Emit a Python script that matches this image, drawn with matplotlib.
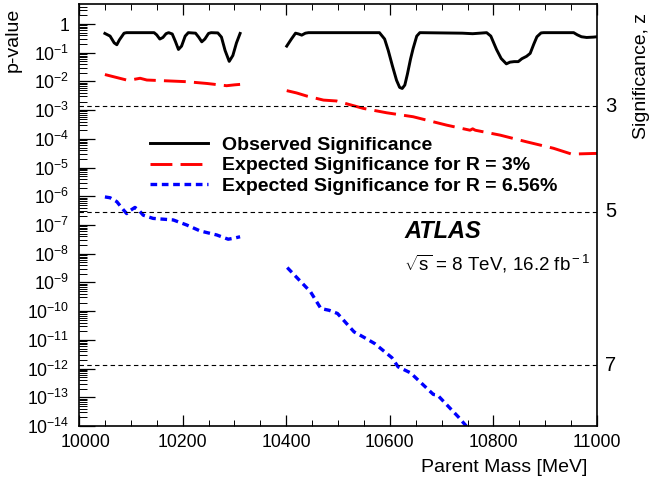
import matplotlib
matplotlib.use("Agg")
import matplotlib.pyplot as plt
from matplotlib.ticker import FixedLocator, NullFormatter, MultipleLocator
import matplotlib.transforms as mtransforms
import numpy as np

plt.rcParams['font.family'] = ['Liberation Sans', 'DejaVu Sans']
plt.rcParams['mathtext.fontset'] = 'custom'
plt.rcParams['mathtext.rm'] = 'Liberation Sans'
plt.rcParams['mathtext.it'] = 'Liberation Sans:italic'
plt.rcParams['mathtext.bf'] = 'Liberation Sans:bold'

# ---------------- data ----------------
obs1_x = [10050, 10060, 10068, 10073, 10078, 10087, 10092, 10145, 10150, 10156, 10162,
          10168, 10173, 10180, 10186, 10192, 10198, 10205, 10211, 10225, 10231, 10237,
          10243, 10250, 10255, 10268, 10275, 10282, 10290, 10297, 10304, 10311]
obs1_p = [0.47, 0.38, 0.22, 0.19, 0.28, 0.48, 0.5, 0.5, 0.42, 0.3, 0.34,
          0.46, 0.5, 0.45, 0.25, 0.13, 0.17, 0.38, 0.5, 0.48, 0.35, 0.24,
          0.3, 0.47, 0.5, 0.49, 0.35, 0.12, 0.05, 0.08, 0.22, 0.47]

obs2_x = [10401, 10410, 10418, 10424, 10430, 10437, 10443, 10580, 10590, 10597, 10605,
          10613, 10619, 10624, 10629, 10634, 10640, 10645, 10652, 10658, 10740, 10760,
          10787, 10795, 10806, 10815, 10825, 10832, 10840, 10848, 10855, 10864, 10871,
          10878, 10884, 10892, 10897, 10955, 10962, 10970, 10980, 10993, 11000]
obs2_p = [0.17, 0.3, 0.48, 0.45, 0.41, 0.48, 0.5, 0.5, 0.3, 0.12, 0.035,
          0.011, 0.0062, 0.0057, 0.0075, 0.018, 0.06, 0.14, 0.38, 0.5, 0.48, 0.46,
          0.5, 0.38, 0.13, 0.063, 0.041, 0.047, 0.049, 0.049, 0.062, 0.075, 0.095,
          0.2, 0.36, 0.49, 0.5, 0.5, 0.42, 0.36, 0.34, 0.35, 0.36]

exp3_1_x = [10050, 10070, 10092, 10105, 10118, 10131, 10169, 10208, 10247, 10285, 10300, 10311]
exp3_1_p = [0.0174, 0.0141, 0.0112, 0.0117, 0.0129, 0.0112, 0.0105, 0.0098, 0.0085,
            0.0071, 0.0076, 0.0079]
exp3_2_x = [10401, 10420, 10440, 10472, 10497, 10549, 10594, 10645, 10710, 10755, 10760,
            10765, 10813, 10864, 10916, 10951, 10993, 11000]
exp3_2_p = [4.79e-3, 3.98e-3, 3.09e-3, 2.24e-3, 2.09e-3, 1.15e-3, 8.1e-4, 5.9e-4, 3.0e-4,
            2.0e-4, 2.24e-4, 2.0e-4, 1.35e-4, 7.9e-5, 4.7e-5, 2.95e-5, 3.1e-5, 3.1e-5]

exp656_1_x = [10050, 10060, 10073, 10085, 10092, 10100, 10108, 10116, 10124, 10143, 10182,
              10208, 10234, 10266, 10288, 10300, 10311]
exp656_1_p = [9.5e-7, 8.9e-7, 6.5e-7, 3.5e-7, 2.5e-7, 3.3e-7, 4.1e-7, 3.2e-7, 2.2e-7,
              1.7e-7, 1.5e-7, 1.0e-7, 6.2e-8, 4.5e-8, 3.2e-8, 3.5e-8, 3.9e-8]
exp656_2_x = [10402, 10447, 10467, 10483, 10499, 10531, 10551, 10571, 10604, 10616, 10640,
              10684, 10692, 10732, 10750]
exp656_2_p = [3.3e-9, 4.7e-10, 1.23e-10, 1.07e-10, 8.3e-11, 1.9e-11, 1.2e-11, 7.4e-12,
              2.4e-12, 1.15e-12, 7.1e-13, 1.26e-13, 1.2e-13, 2.1e-14, 8.9e-15]

sig_levels = [3, 5, 7]
sig_pvalues = [1.35e-3, 2.87e-7, 1.28e-12]

ytick_vals = [1e-14, 1e-13, 1e-12, 1e-11, 1e-10, 1e-9, 1e-8, 1e-7, 1e-6, 1e-5, 1e-4,
              1e-3, 1e-2, 1e-1, 1]
ytick_labels = ['$10^{-14}$', '$10^{-13}$', '$10^{-12}$', '$10^{-11}$', '$10^{-10}$',
                '$10^{-9}$', '$10^{-8}$', '$10^{-7}$', '$10^{-6}$', '$10^{-5}$',
                '$10^{-4}$', '$10^{-3}$', '$10^{-2}$', '$10^{-1}$', '1']
xtick_vals = [10000, 10200, 10400, 10600, 10800, 11000]
xtick_labels = ['10000', '10200', '10400', '10600', '10800', '11000']

# ---------------- figure ----------------
W, H = 653, 486
fig = plt.figure(figsize=(W / 100, H / 100), dpi=100)
L, R, B, T = 79, 597, 426, 4
ax = fig.add_axes([L / W, (H - B) / H, (R - L) / W, (B - T) / H])
ax.set_yscale('log')
ax.set_xlim(10000, 11000)
ax.set_ylim(1e-14, 4.98)

red = '#ff0000'
blue = '#0000ff'
l_obs, = ax.plot(obs1_x, obs1_p, color='black', lw=2.1, solid_joinstyle='round')
ax.plot(obs2_x, obs2_p, color='black', lw=2.1, solid_joinstyle='round')
l_r3, = ax.plot(exp3_1_x, exp3_1_p, color=red, lw=2.1, dashes=(7.5, 2.8))
ax.plot(exp3_2_x, exp3_2_p, color=red, lw=2.1, dashes=(7.5, 2.8))
l_r6, = ax.plot(exp656_1_x, exp656_1_p, color=blue, lw=2.4, dashes=(2.0, 1.4))
ax.plot(exp656_2_x, exp656_2_p, color=blue, lw=2.4, dashes=(2.0, 1.4))

for p in sig_pvalues:
    ax.axhline(p, color='black', lw=0.8, dashes=(4, 3))

# ticks
ax.yaxis.set_major_locator(FixedLocator(ytick_vals))
ax.set_yticklabels(ytick_labels)
ax.yaxis.set_minor_locator(matplotlib.ticker.LogLocator(base=10, subs=np.arange(2, 10), numticks=30))
ax.yaxis.set_minor_formatter(NullFormatter())
ax.xaxis.set_major_locator(FixedLocator(xtick_vals))
ax.set_xticklabels(xtick_labels)
ax.xaxis.set_minor_locator(MultipleLocator(50))
ax.tick_params(axis='y', which='major', direction='in', length=11.5, width=0.9,
               left=True, right=False, labelsize=12.7, pad=7)
ax.tick_params(axis='y', which='minor', direction='in', length=5.5, width=0.7,
               left=True, right=False)
ax.tick_params(axis='x', which='major', direction='in', length=8, width=0.9,
               top=True, bottom=True, labelsize=12.7, pad=6)
ax.tick_params(axis='x', which='minor', direction='in', length=4, width=0.7,
               top=True, bottom=True)
for s in ax.spines.values():
    s.set_linewidth(1.2)

# first x label shifted right (as in the reference)
first_lbl = ax.get_xticklabels()[0]
first_lbl.set_transform(first_lbl.get_transform() +
                        mtransforms.ScaledTranslation(7 / 100, 0, fig.dpi_scale_trans))

# right-side significance labels
for z, p in zip(sig_levels, sig_pvalues):
    ax.annotate(str(z), xy=(1.0, p), xycoords=('axes fraction', 'data'),
                xytext=(6, 0), textcoords='offset points', ha='left', va='center',
                fontsize=14.5)

# axis labels
fig.text(13 / W, 1 - 8 / H, 'p-value', rotation=90, ha='center', va='top', fontsize=14)
fig.text(642 / W, 1 - 13 / H, 'Significance, z', rotation=90, ha='center', va='top',
         fontsize=14)
fig.text(587 / W, 1 - 468 / H, 'Parent Mass [MeV]', ha='right', va='center', fontsize=14)

# legend
leg = ax.legend([l_obs, l_r3, l_r6],
                ['Observed Significance', 'Expected Significance for R = 3%',
                 'Expected Significance for R = 6.56%'],
                loc='upper left', bbox_to_anchor=((150 - L) / (R - L), 1 - (136 - T) / (B - T)),
                frameon=False, prop={'weight': 'bold', 'size': 14},
                handlelength=3.0, handletextpad=0.7, labelspacing=0.16, borderaxespad=0,
                borderpad=0)

# annotations
fig.text(404 / W, 1 - 231 / H, 'ATLAS', fontsize=17, fontweight='bold', style='italic',
         ha='left', va='center')
fig.text(404 / W, 1 - 264 / H, r'$\sqrt{\rm s}$ = 8 TeV, 16.2 fb$^{\rm -1}$', fontsize=13.5,
         ha='left', va='center')

fig.savefig('out.png', dpi=100)
